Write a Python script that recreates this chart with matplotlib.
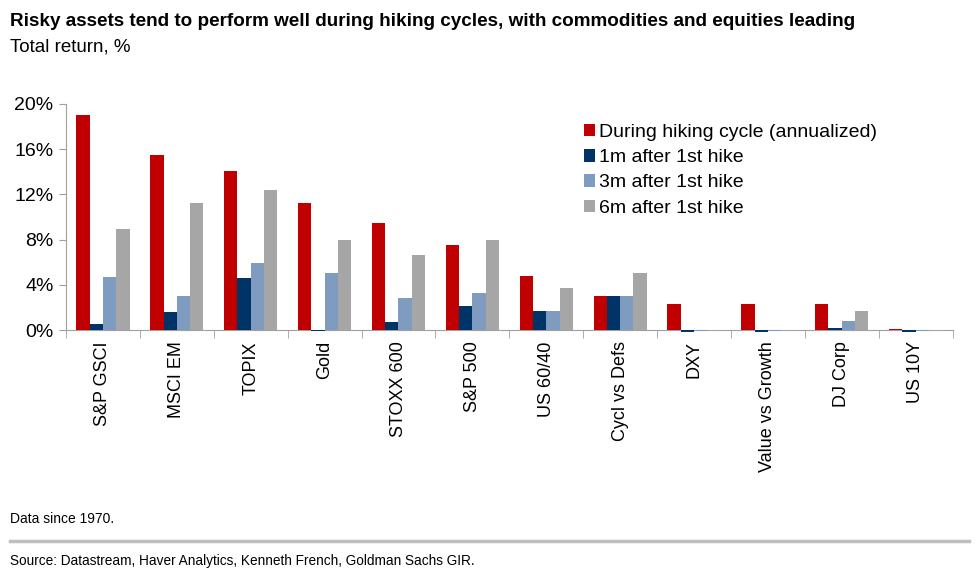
import matplotlib
matplotlib.use("Agg")
import matplotlib.pyplot as plt
import numpy as np

# chart data
categories = ["S&P GSCI", "MSCI EM", "TOPIX", "Gold", "STOXX 600", "S&P 500",
              "US 60/40", "Cycl vs Defs", "DXY", "Value vs Growth", "DJ Corp", "US 10Y"]
during_cycle = [19.0, 15.5, 14.1, 11.2, 9.5, 7.5, 4.8, 3.0, 2.3, 2.3, 2.3, 0.05]
after_1m = [0.5, 1.6, 4.6, -0.1, 0.7, 2.1, 1.7, 3.0, -0.15, -0.15, 0.15, -0.15]
after_3m = [4.7, 3.0, 5.9, 5.0, 2.8, 3.3, 1.7, 3.0, -0.1, -0.1, 0.8, -0.1]
after_6m = [8.9, 11.2, 12.4, 8.0, 6.6, 8.0, 3.7, 5.0, -0.1, -0.1, 1.7, -0.1]
series_names = ["During hiking cycle (annualized)", "1m after 1st hike",
                "3m after 1st hike", "6m after 1st hike"]
y_ticks = [0, 4, 8, 12, 16, 20]

colors = ["#C00000", "#003366", "#7F9BC0", "#A6A6A6"]
plt.rcParams["font.family"] = ["Liberation Sans", "DejaVu Sans"]

fig = plt.figure(figsize=(9.79, 5.77), dpi=100)
ax = fig.add_axes([0.0674, 0.428, 0.9056, 0.392])

x = np.arange(len(categories))
width = 0.18
all_series = [during_cycle, after_1m, after_3m, after_6m]
for i, vals in enumerate(all_series):
    ax.bar(x + (i - 1.5) * width, vals, width, color=colors[i],
           label=series_names[i], clip_on=False, zorder=4)

ax.set_xlim(-0.5, len(categories) - 0.5)
ax.set_ylim(0, 20)
ax.set_yticks(y_ticks)
ax.set_yticklabels([f"{t}%" for t in y_ticks], fontsize=14)
ax.set_xticks(x)
ax.set_xticklabels(categories, rotation=90, fontsize=13)
ax.tick_params(axis="x", length=0, pad=8)
ax.set_xticks(np.arange(-0.5, len(categories)), minor=True)
ax.tick_params(axis="x", which="minor", length=6, color="#A0A0A0")
ax.tick_params(axis="y", length=5, color="#A0A0A0", pad=4)

for s in ["top", "right"]:
    ax.spines[s].set_visible(False)
for s in ["left", "bottom"]:
    ax.spines[s].set_color("#A0A0A0")
    ax.spines[s].set_zorder(3)

leg = ax.legend(loc="upper left", bbox_to_anchor=(0.576, 0.945), frameon=False,
                fontsize=14, handlelength=0.55, handleheight=0.6,
                handletextpad=0.2, labelspacing=0.42, borderaxespad=0)

fig.text(0.010, 0.962, "Risky assets tend to perform well during hiking cycles, with commodities and equities leading",
         fontsize=13.6, fontweight="bold", va="center")
fig.text(0.010, 0.918, "Total return, %", fontsize=13.5, va="center")
fig.text(0.010, 0.100, "Data since 1970.", fontsize=10, va="center")
fig.add_artist(plt.Line2D([0.010, 0.990], [0.063, 0.063], color="#BFBFBF", lw=2.5,
                          transform=fig.transFigure))
fig.text(0.010, 0.027, "Source: Datastream, Haver Analytics, Kenneth French, Goldman Sachs GIR.",
         fontsize=9.8, va="center")

fig.savefig("out.png", dpi=100)
